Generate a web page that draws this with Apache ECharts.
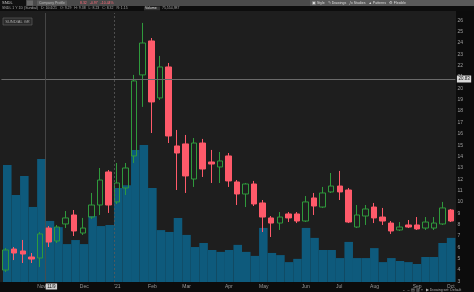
<!DOCTYPE html>
<html>
<head>
<meta charset="utf-8">
<script src="https://cdn.jsdelivr.net/npm/echarts@6/dist/echarts.min.js"></script>
<style>html,body{margin:0;padding:0;background:#0c0c0c;}#c{width:474px;height:292px;}</style>
</head>
<body>
<div id="c"></div>
<script>
// Weekly candles, Oct 2020 - Oct 2021
const categories = ['2020-10-05','2020-10-12','2020-10-19','2020-10-26','2020-11-02','2020-11-09','2020-11-16','2020-11-23','2020-11-30','2020-12-07','2020-12-14','2020-12-21','2020-12-28','2021-01-04','2021-01-11','2021-01-18','2021-01-25','2021-02-01','2021-02-08','2021-02-15','2021-02-22','2021-03-01','2021-03-08','2021-03-15','2021-03-22','2021-03-29','2021-04-05','2021-04-12','2021-04-19','2021-04-26','2021-05-03','2021-05-10','2021-05-17','2021-05-24','2021-05-31','2021-06-07','2021-06-14','2021-06-21','2021-06-28','2021-07-05','2021-07-12','2021-07-19','2021-07-26','2021-08-02','2021-08-09','2021-08-16','2021-08-23','2021-08-30','2021-09-06','2021-09-13','2021-09-20','2021-09-27','2021-10-04'];
const openV  = [4.00,5.85,5.68,5.15,5.06,7.70,6.56,8.06,8.85,7.26,8.67,9.73,12.64,10.00,11.23,14.05,21.19,24.18,19.16,21.89,14.93,15.11,12.02,15.19,13.52,13.08,14.05,11.76,10.70,11.58,9.91,8.59,8.14,8.94,8.94,8.32,10.35,9.55,10.88,11.40,11.05,7.79,8.76,9.55,8.67,8.14,7.53,7.97,7.97,7.70,7.70,8.06,9.29];
const closeV = [5.77,5.50,5.41,4.97,7.18,6.47,7.79,8.59,7.44,7.70,9.73,11.93,9.73,11.67,12.99,20.66,24.00,18.81,21.89,15.81,14.31,12.29,15.19,12.90,13.34,13.61,11.85,10.70,11.58,9.82,8.67,8.14,8.67,8.59,8.32,10.00,9.64,10.79,11.40,10.88,8.23,8.85,9.38,8.59,8.32,7.44,7.79,7.79,7.62,8.23,8.14,9.47,8.32];
const lowV   = [3.83,4.88,4.62,4.62,4.27,6.03,6.38,7.70,7.00,7.09,8.50,8.85,9.03,9.82,10.61,13.43,18.37,16.07,18.98,15.19,11.05,10.79,11.32,12.20,11.67,11.67,11.32,9.73,9.55,9.64,7.35,6.91,7.53,8.23,8.14,8.23,8.85,9.47,10.79,10.17,8.14,7.70,7.97,8.14,7.97,7.18,7.44,7.70,7.53,7.53,7.53,7.97,8.23];
const highV  = [5.94,6.03,6.65,5.50,7.35,7.88,7.97,9.20,9.29,8.59,10.79,12.99,12.81,13.43,13.43,21.19,25.77,24.44,22.86,22.24,16.34,15.90,15.63,15.55,14.58,14.40,14.31,11.93,11.67,11.85,10.17,8.76,9.11,9.11,9.11,10.52,10.79,11.32,12.55,12.73,11.23,9.73,9.73,9.91,9.47,8.32,8.23,8.41,8.67,8.67,8.67,10.00,9.38];
const volumeV = [43.5,32.3,39.4,27.9,45.7,22.7,20.4,14.1,15.6,14.1,24.5,20.8,21.2,34.9,36.0,49.1,50.9,34.9,19.3,18.6,23.8,17.5,13.0,14.5,11.9,11.2,11.9,13.8,11.2,9.7,20.1,10.8,10.0,7.4,8.6,20.1,16.4,11.9,11.9,8.9,14.9,8.9,8.9,12.6,7.4,8.9,7.8,7.4,6.7,9.3,9.3,14.5,16.4];
// month tick labels (index of first week of month)
const monthIdx = [4,9,13,17,21,26,30,35,39,43,48,52];
const monthLbl = ['Nov','Dec',"'21",'Feb','Mar','Apr','May','Jun','Jul','Aug','Sep','Oct'];
const priceMin = 3, priceMax = 26, priceStep = 1;
const crossPrice = 20.83, lastPrice = 8.32, crossIdx = 5, yearIdx = 13;

const candleData = categories.map((c,i)=>[openV[i],closeV[i],lowV[i],highV[i]]);
const F = 'Liberation Sans';
const chart = echarts.init(document.getElementById('c'), null, {renderer:'canvas'});
const L = 1.4, R = 18.6;
chart.setOption({
  backgroundColor:'#0c0c0c',
  animation:false,
  textStyle:{fontFamily:F},
  graphic:[
    {type:'rect', z:-5, silent:true, shape:{x:0,y:11,width:456,height:271}, style:{fill:'#1e1e1e'}},
    {type:'rect', z:-5, silent:true, shape:{x:0,y:0,width:474,height:6}, style:{fill:'#4a4a4a'}},
    {type:'rect', z:-4, silent:true, shape:{x:0,y:0,width:26,height:6}, style:{fill:'#111'}},
    {type:'text', z:-3, silent:true, style:{x:2,y:3,text:'SNDL',fill:'#ccc',font:'4px '+F,verticalAlign:'middle'}},
    {type:'rect', z:-4, silent:true, shape:{x:27,y:0.5,width:6,height:5}, style:{fill:'#6a6a6a'}},
    {type:'rect', z:-4, silent:true, shape:{x:37,y:0.5,width:30,height:5}, style:{fill:'#5c5c5c'}},
    {type:'text', z:-3, silent:true, style:{x:39,y:3,text:'Company Profile',fill:'#bbb',font:'3.5px '+F,verticalAlign:'middle'}},
    {type:'text', z:-3, silent:true, style:{x:80,y:3,text:'8.32   -0.97   -10.44%',fill:'#ff6b7a',font:'3.5px '+F,verticalAlign:'middle'}},
    {type:'rect', z:-4, silent:true, shape:{x:310,y:0,width:164,height:6}, style:{fill:'#5a5a5a'}},
    {type:'text', z:-3, silent:true, style:{x:312,y:3,text:'\u25A3 Style   \u270E Drawings   \u0192x Studies   \u25B2 Patterns   \u2699 Flexible',fill:'#ddd',font:'3.5px '+F,verticalAlign:'middle'}},
    {type:'rect', z:-5, silent:true, shape:{x:0,y:6,width:474,height:5}, style:{fill:'#0d0d0d'}},
    {type:'text', z:-3, silent:true, style:{x:2,y:8.5,text:'SNDL 1 Y 1D (Sundial)   D: 10/4/21   O: 9.29   H: 9.38   L: 8.23   C: 8.32   R: 1.15',fill:'#aaa',font:'3.5px '+F,verticalAlign:'middle'}},
    {type:'rect', z:-4, silent:true, shape:{x:144,y:6.5,width:16,height:4}, style:{fill:'#333'}},
    {type:'text', z:-3, silent:true, style:{x:145,y:8.5,text:'Volume',fill:'#ddd',font:'3.5px '+F,verticalAlign:'middle'}},
    {type:'text', z:-3, silent:true, style:{x:162,y:8.5,text:'75,554,987',fill:'#aaa',font:'3.5px '+F,verticalAlign:'middle'}},
    {type:'rect', z:-3, silent:true, shape:{x:3,y:18,width:29,height:7}, style:{fill:'#2a2a2a',stroke:'#666',lineWidth:0.6}},
    {type:'text', z:-2, silent:true, style:{x:17.5,y:21.5,text:'SUNDIAL GR',fill:'#aaa',font:'4px '+F,align:'center',verticalAlign:'middle'}},
    {type:'text', z:-3, silent:true, style:{x:402,y:290,text:'\u2190 \u2192 \u25A4 \u25A5 \u2316   \u25B6 Drawing set: Default',fill:'#aaa',font:'3.5px '+F,verticalAlign:'middle'}}
  ],
  grid:[
    {left:L, right:R, top:20.3, bottom:10.6},
    {left:L, right:R, top:13, bottom:10}
  ],
  xAxis:[
    {type:'category', gridIndex:0, position:'bottom', data:categories, boundaryGap:true, axisLine:{show:false}, axisTick:{show:false}, axisLabel:{show:false}},
    {type:'category', gridIndex:1, position:'bottom', data:categories, boundaryGap:true, axisLine:{show:false}, axisTick:{show:false}, axisLabel:{show:false}},
    {type:'value', gridIndex:1, position:'bottom', min:0, max:categories.length, interval:1, splitLine:{show:false}, axisLine:{show:false}, axisTick:{show:false},
     axisLabel:{show:true, margin:2.5, fontSize:5, color:'#9a9a9a', align:'left', fontFamily:F,
       formatter:(v)=>{const k=monthIdx.indexOf(Math.round(v)); return k>=0?monthLbl[k]:'';}}}
  ],
  yAxis:[
    {type:'value', gridIndex:0, position:'right', min:priceMin, max:priceMax, interval:priceStep, splitLine:{show:false}, axisLine:{show:false}, axisTick:{show:false},
     axisLabel:{margin:2, fontSize:5, color:'#a0a0a0', fontFamily:F}},
    {type:'value', gridIndex:1, min:0, max:100, show:false, splitLine:{show:false}}
  ],
  series:[
    {type:'bar', name:'Volume', xAxisIndex:1, yAxisIndex:1, data:volumeV, barWidth:'100%', barCategoryGap:'0%', itemStyle:{color:'#0e5a7c'}, z:1},
    {type:'candlestick', name:'Price', xAxisIndex:0, yAxisIndex:0, data:candleData, barWidth:6, z:3,
     itemStyle:{color:'rgba(0,0,0,0)', color0:'#ff5a6a', borderColor:'#2f9a3c', borderColor0:'#ff5a6a', borderWidth:1},
     markLine:{silent:true, symbol:'none', animation:false, data:[
       {yAxis:crossPrice, lineStyle:{color:'#6a6a6a', width:1, type:'solid'},
        label:{show:true, position:'end', distance:1.5, formatter:crossPrice.toFixed(2), fontSize:4.5, color:'#111', backgroundColor:'#d8d8d8', padding:[1,1.5], fontFamily:F}},
       {yAxis:lastPrice, lineStyle:{opacity:0},
        label:{show:true, position:'end', distance:1.5, formatter:lastPrice.toFixed(2), fontSize:4.5, color:'#fff', backgroundColor:'#ff5a6a', padding:[1,1.5], fontFamily:F}}
     ]}},
    {type:'scatter', xAxisIndex:2, yAxisIndex:1, data:[], z:4,
     markLine:{silent:true, symbol:'none', animation:false, data:[
       {xAxis:yearIdx, lineStyle:{color:'#5a5a5a', width:0.8, type:[2,2]}, label:{show:false}},
       {xAxis:crossIdx, lineStyle:{color:'#4f4f4f', width:0.8, type:'solid'},
        label:{show:true, position:'start', distance:1.5, align:'left', formatter:'11/9', fontSize:4.5, color:'#111', backgroundColor:'#d0d0d0', padding:[0.5,1.5], fontFamily:F}}
     ]}}
  ]
});
</script>
</body>
</html>
